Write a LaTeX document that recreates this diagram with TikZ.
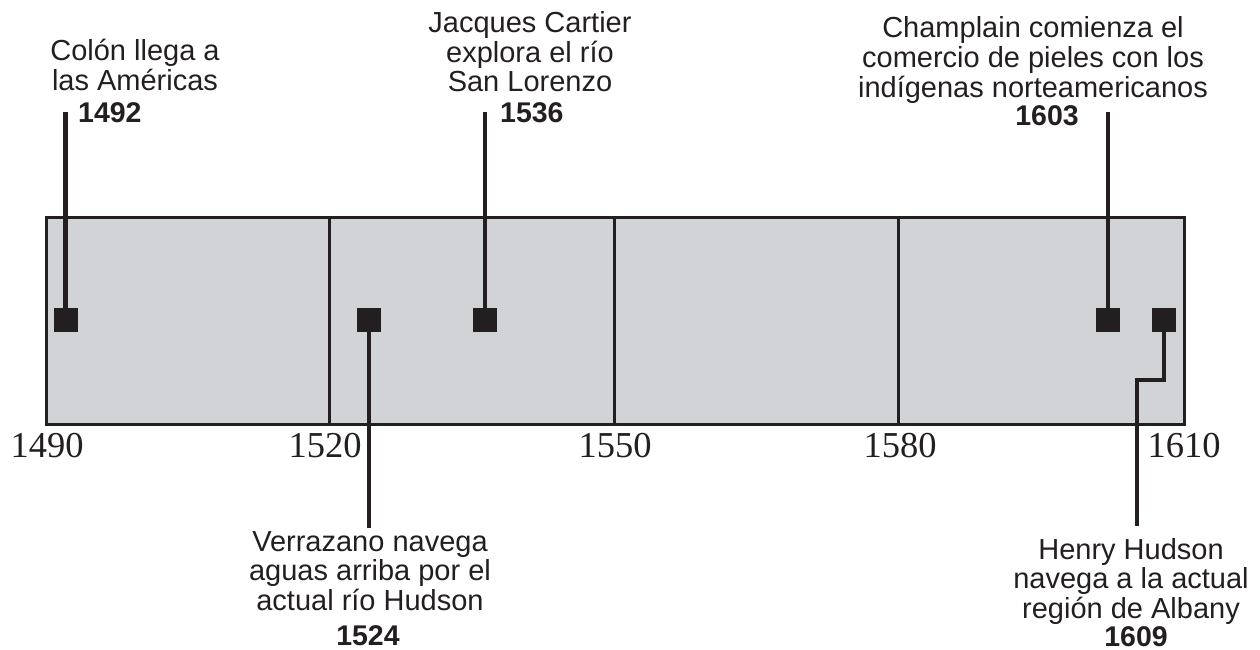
\documentclass[tikz,border=0pt]{standalone}
\usepackage{fontspec}
\setmainfont{Liberation Sans}
\newfontfamily\yearserif{Liberation Serif}
\definecolor{bandgray}{HTML}{D1D3D6}
\definecolor{ink}{HTML}{231F20}
\newcommand\stacklines[1]{\begin{tabular}[t]{@{}c@{}}#1\end{tabular}}
\tikzset{
  marker/.style={fill=ink, draw=none, minimum size=24pt, inner sep=0pt, rectangle},
  conn/.style={draw=ink, line width=4.5pt},
  divider/.style={draw=ink, line width=3pt},
  lbl/.style={inner sep=0pt, text=ink, font=\fontsize{29}{28}\selectfont, anchor=base},
  yr/.style={inner sep=0pt, text=ink, font=\fontsize{28.5}{28}\selectfont\bfseries},
  axis/.style={inner sep=0pt, text=ink, font=\yearserif\fontsize{36.5}{36}\selectfont, anchor=base}
}
\begin{document}
\begin{tikzpicture}[x=1pt, y=-1pt]
\useasboundingbox (0,0) rectangle (1260,650);
% band
\node[fill=bandgray, draw=ink, line width=3pt, minimum width=1138pt, minimum height=207pt, inner sep=0pt, anchor=north west] (band) at (45,216) {};
\draw[divider] (329.5,216) -- (329.5,423);
\draw[divider] (614,216) -- (614,423);
\draw[divider] (898.5,216) -- (898.5,423);
% axis labels
\node[axis] (y1490) at (47,457) {1490};
\node[axis] (y1520) at (325,457) {1520};
\node[axis] (y1550) at (615,457) {1550};
\node[axis] (y1580) at (900,457) {1580};
\node[axis] (y1610) at (1184,457) {1610};
% markers
\node[marker] (m1492) at (65.5,320) {};
\node[marker] (m1524) at (369,320) {};
\node[marker] (m1536) at (485,320) {};
\node[marker] (m1603) at (1108,320) {};
\node[marker] (m1609) at (1164,320) {};
% connector ends
\coordinate (t1492) at (65.5,112);
\coordinate (t1536) at (485,112);
\coordinate (t1603) at (1108,112);
\coordinate (b1524) at (369,528);
\coordinate (k1609) at (1164,380);
\coordinate (j1609) at (1137,380);
\coordinate (b1609) at (1137,526);
\draw[conn] (m1492.center) -- (t1492);
\draw[conn] (m1536.center) -- (t1536);
\draw[conn] (m1603.center) -- (t1603);
\draw[conn] (m1524.center) -- (b1524);
\draw[conn, line join=miter] (m1609.center) -- (k1609) -- (j1609) -- (b1609);
% top labels
\node[lbl] (lcolon) at (135,61) {\stacklines{Colón llega a\\las Américas}};
\node[yr, anchor=base west] (n1492) at (78,123) {1492};
\node[lbl] (lcartier) at (530,33) {\stacklines{Jacques Cartier\\explora el río\\San Lorenzo}};
\node[yr, anchor=base west] (n1536) at (500,123) {1536};
\node[lbl] (lchamp) at (1033,38) {\stacklines{Champlain comienza el\\comercio de pieles con los\\indígenas norteamericanos}};
\node[yr, anchor=base] (n1603) at (1047,125) {1603};
% bottom labels
\node[lbl] (lverr) at (370,551) {\stacklines{Verrazano navega\\aguas arriba por el\\actual río Hudson}};
\node[yr, anchor=base] (n1524) at (368,645) {1524};
\node[lbl] (lhud) at (1131,559) {\stacklines{Henry Hudson\\navega a la actual\\región de Albany}};
\node[yr, anchor=base] (n1609) at (1136,646) {1609};
\end{tikzpicture}
\end{document}
